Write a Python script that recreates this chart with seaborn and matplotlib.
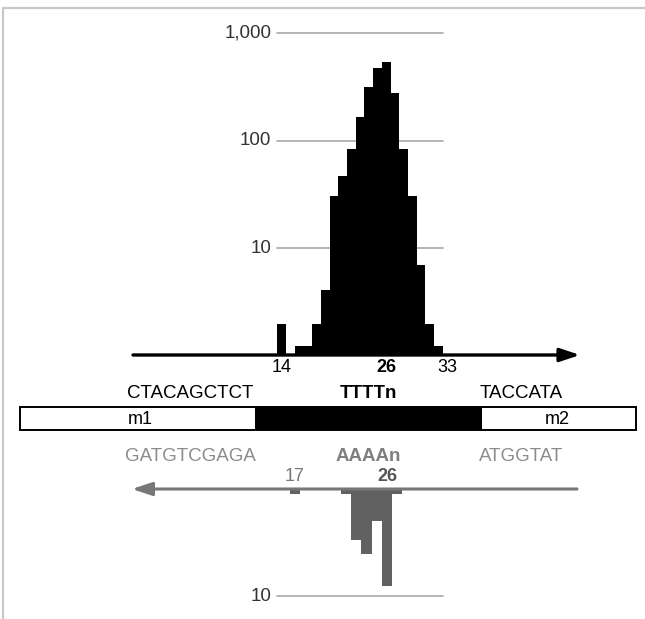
import numpy as np
import pandas as pd
import matplotlib
matplotlib.use("Agg")
import matplotlib.pyplot as plt
import matplotlib.transforms as mtransforms
from matplotlib.patches import Rectangle
import seaborn as sns

# ---------------- data ----------------
top_lengths = [14, 15, 16, 17, 18, 19, 20, 21, 22, 23, 24, 25, 26, 27, 28, 29, 30, 31, 32]
top_counts = [2.0, 0, 1.24, 1.24, 2.0, 4.1, 31, 47, 84, 165, 318, 477, 535, 276, 84, 31, 7.1, 2.0, 1.24]

bottom_lengths = [17, 18, 19, 20, 21, 22, 23, 24, 25, 26, 27]
bottom_counts = [1.11, 0, 0, 0, 0, 1.11, 3.0, 4.05, 2.0, 8.0, 1.11]

top_grid_values = [10, 100, 1000]
top_grid_labels = ["10", "100", "1,000"]
bottom_grid_values = [10]
bottom_grid_labels = ["10"]

top_axis_labels = [14, 26, 33]
top_axis_bold = [False, True, False]
bottom_axis_labels = [17, 26]
bottom_axis_bold = [False, True]

seq_top = ["CTACAGCTCT", "TTTTn", "TACCATA"]
seq_bottom = ["GATGTCGAGA", "AAAAn", "ATGGTAT"]
module_labels = ["m1", "m2"]

# ---------------- figure ----------------
sns.set_theme(style="white")
plt.rcParams["font.family"] = ["Liberation Sans", "DejaVu Sans"]

W, H = 645, 619
fig = plt.figure(figsize=(W / 100, H / 100), dpi=100)

def frac_y(px):
    return 1 - px / H

# top histogram axes (pixel y 15..355)
ax_top = fig.add_axes([0, frac_y(355), 1, frac_y(15) - frac_y(355)])
# bottom histogram axes (pixel y 489..612)
ax_bot = fig.add_axes([0, frac_y(612), 1, frac_y(489) - frac_y(612)])
# overlay in pixel coordinates
ov = fig.add_axes([0, 0, 1, 1])
ov.set_xlim(0, W)
ov.set_ylim(H, 0)
ov.axis("off")
ov.patch.set_visible(False)

# --- top histogram ---
dtop = pd.DataFrame({"length": top_lengths, "count": top_counts})
dtop = dtop[dtop["count"] > 0]
sns.barplot(data=dtop, x="length", y="count", native_scale=True, width=1,
            color="black", saturation=1, errorbar=None, linewidth=0, ax=ax_top, zorder=2)
ax_top.set_yscale("log")
ax_top.set_ylim(1.026, 1472)
ax_top.set_xlim(-18.361, 55.735)
ax_top.axis("off")
x0, x1 = min(top_lengths) - 0.5, max(top_lengths) + 0.5
for v, lab in zip(top_grid_values, top_grid_labels):
    ax_top.plot([x0, x1], [v, v], color="#a8a8a8", lw=1.2, zorder=0)
    ax_top.text(x0 - 0.7, v, lab, ha="right", va="center", fontsize=13.5, color="#333333")

# --- bottom histogram ---
dbot = pd.DataFrame({"length": bottom_lengths, "count": bottom_counts})
dbot = dbot[dbot["count"] > 0]
sns.barplot(data=dbot, x="length", y="count", native_scale=True, width=1,
            color="#616161", saturation=1, errorbar=None, linewidth=0, ax=ax_bot, zorder=2)
ax_bot.set_yscale("log")
ax_bot.set_ylim(14.11, 1)
ax_bot.set_xlim(-11.761, 51.166)
ax_bot.axis("off")
for v, lab in zip(bottom_grid_values, bottom_grid_labels):
    bx0, bx1 = 15.3, 31.5
    ax_bot.plot([bx0, bx1], [v, v], color="#a8a8a8", lw=1.2, zorder=0)
    ax_bot.text(bx0 - 0.6, v, lab, ha="right", va="center", fontsize=13.5, color="#333333")

# --- axis number labels (x in data, y in pixels) ---
tr_top = mtransforms.blended_transform_factory(ax_top.transData, ov.transData)
for v, b in zip(top_axis_labels, top_axis_bold):
    ov.text(v, 367.5, str(v), transform=tr_top, ha="center", va="center",
            fontsize=13, color="black", fontweight="bold" if b else "normal")
tr_bot = mtransforms.blended_transform_factory(ax_bot.transData, ov.transData)
for v, b in zip(bottom_axis_labels, bottom_axis_bold):
    ov.text(v, 476.5, str(v), transform=tr_bot, ha="center", va="center",
            fontsize=13, color="#555555" if b else "#777777",
            fontweight="bold" if b else "normal")

# --- arrows ---
ov.annotate("", xy=(580, 355), xytext=(133, 355),
            arrowprops=dict(arrowstyle="-|>,head_length=0.6,head_width=0.2",
                            lw=2.4, color="black", mutation_scale=20,
                            shrinkA=0, shrinkB=0), zorder=5)
ov.annotate("", xy=(132, 489), xytext=(577, 489),
            arrowprops=dict(arrowstyle="-|>,head_length=0.6,head_width=0.2",
                            lw=2.2, color="#777777", mutation_scale=20,
                            shrinkA=0, shrinkB=0), zorder=1)

# --- construct box ---
ov.add_patch(Rectangle((255, 406.7), 481.7 - 255, 23.3, facecolor="black",
                       edgecolor="none", zorder=3))
ov.add_patch(Rectangle((20, 406.7), 616, 23.3, facecolor="none",
                       edgecolor="black", lw=1.4, zorder=4))
ov.text(140, 420, module_labels[0], ha="center", va="center", fontsize=13, color="black")
ov.text(557, 420, module_labels[1], ha="center", va="center", fontsize=13, color="black")

seq_x = [190, 368, 521.5]
for i, (s, g) in enumerate(zip(seq_top, seq_bottom)):
    bold = (i == 1)
    ov.text(seq_x[i], 394, s, ha="center", va="center", fontsize=13.5, color="black",
            fontweight="bold" if bold else "normal")
    ov.text(seq_x[i], 456.5, g, ha="center", va="center", fontsize=13.5,
            color="#7f7f7f" if bold else "#8c8c8c",
            fontweight="bold" if bold else "normal")

# --- light frame ---
ov.plot([3, 3], [8, H + 2], color="#c8c8c8", lw=1.6, clip_on=False)
ov.plot([3, W + 2], [8, 8], color="#c8c8c8", lw=1.6, clip_on=False)

fig.savefig("out.png", dpi=100)
